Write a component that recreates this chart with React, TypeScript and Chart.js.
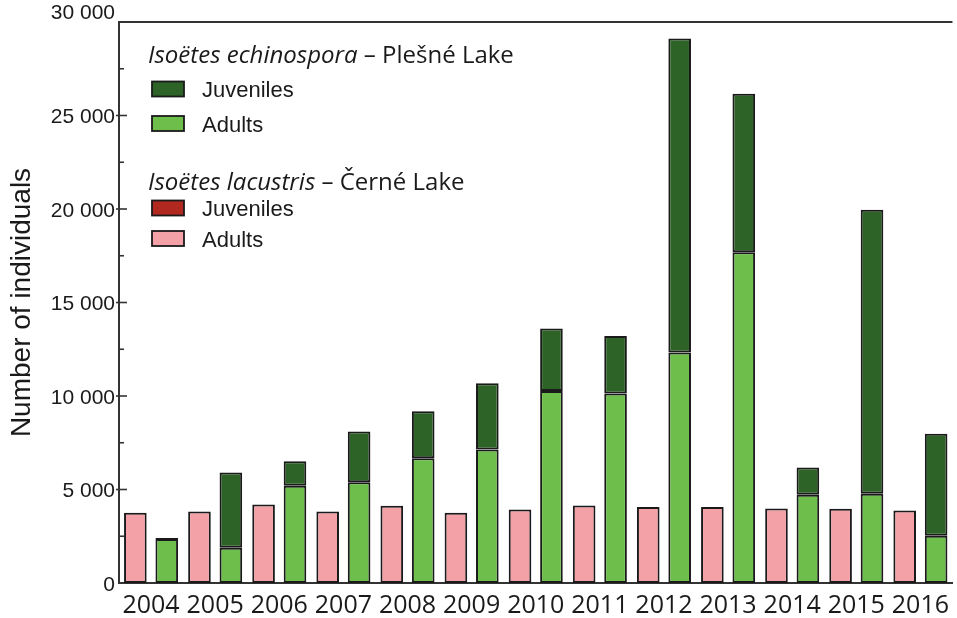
import { useEffect, useRef } from "react";
import { Chart, registerables } from "chart.js";

Chart.register(...registerables);

// Survey years
const years = [
  "2004", "2005", "2006", "2007", "2008", "2009", "2010",
  "2011", "2012", "2013", "2014", "2015", "2016",
];

// Isoëtes lacustris – Černé Lake
const cerneAdults = [3760, 3830, 4200, 3830, 4130, 3760, 3930, 4150, 4060, 4060, 3990, 3970, 3880];
const cerneJuveniles = [0, 0, 0, 0, 0, 0, 0, 0, 0, 0, 0, 0, 0];

// Isoëtes echinospora – Plešné Lake
const plesneAdults = [2350, 1890, 5200, 5390, 6670, 7140, 10270, 10140, 12320, 17690, 4720, 4770, 2530];
const plesneJuveniles = [50, 4020, 1310, 2710, 2510, 3540, 3340, 3070, 16800, 8470, 1460, 15190, 5450];

// Value axis
const yMax = 30000;
const yStep = 5000;

const PINK = "#F4A0A7";
const LIGHT_GREEN = "#6DBE4B";
const DARK_GREEN = "#2E6327";
const DARK_RED = "#B0281E";
const EDGE = "#1a1a1a";
const AXIS = "#333333";
const TEXT = "#1a1a1a";

const TICK_FONT = "'Liberation Sans', Arial, sans-serif";
const HEAD_FONT = "'Open Sans', 'Noto Sans', sans-serif";

const fmt = (v: number) =>
  v === 0 ? "0" : `${Math.floor(v / 1000)} ${String(v % 1000).padStart(3, "0")}`;

// Frame line, inward tick marks, top tick label and the grouped legend
const decorations = {
  id: "decorations",
  afterDraw(chart: any) {
    const { ctx, chartArea, scales } = chart;
    const { left, right, top } = chartArea;
    const y = scales.y;
    ctx.save();

    // top frame line
    ctx.strokeStyle = AXIS;
    ctx.lineWidth = 2;
    ctx.beginPath();
    ctx.moveTo(left - 1, top);
    ctx.lineTo(right, top);
    ctx.stroke();

    // major and minor tick marks on the value axis
    ctx.lineWidth = 1.6;
    for (let v = yStep; v < yMax; v += yStep) {
      const py = y.getPixelForValue(v);
      ctx.beginPath();
      ctx.moveTo(left - 3, py);
      ctx.lineTo(left + 8, py);
      ctx.stroke();
    }
    for (let v = yStep / 2; v < yMax; v += yStep) {
      const py = y.getPixelForValue(v);
      ctx.beginPath();
      ctx.moveTo(left, py);
      ctx.lineTo(left + 5, py);
      ctx.stroke();
    }

    // top tick label sits above the frame line
    ctx.fillStyle = TEXT;
    ctx.font = `21px ${TICK_FONT}`;
    ctx.textAlign = "right";
    ctx.textBaseline = "middle";
    ctx.fillText(fmt(yMax), left - 4, y.getPixelForValue(yMax) - 9);

    // legend
    const hx = left + 29;
    const drawHeader = (italic: string, rest: string, baseline: number) => {
      ctx.textAlign = "left";
      ctx.textBaseline = "alphabetic";
      ctx.fillStyle = TEXT;
      ctx.font = `italic 24px ${HEAD_FONT}`;
      ctx.fillText(italic, hx, baseline);
      const w = ctx.measureText(italic).width;
      ctx.font = `24px ${HEAD_FONT}`;
      ctx.fillText(rest, hx + w, baseline);
    };
    const drawItem = (color: string, label: string, cy: number) => {
      const bx = left + 33;
      ctx.fillStyle = color;
      ctx.fillRect(bx, cy - 7.5, 32, 15);
      ctx.strokeStyle = EDGE;
      ctx.lineWidth = 1.8;
      ctx.strokeRect(bx, cy - 7.5, 32, 15);
      ctx.fillStyle = TEXT;
      ctx.font = `22px ${TICK_FONT}`;
      ctx.textAlign = "left";
      ctx.textBaseline = "alphabetic";
      ctx.fillText(label, left + 83, cy + 8);
    };

    drawHeader("Isoëtes echinospora", " – Plešné Lake", top + 41);
    drawItem(DARK_GREEN, "Juveniles", top + 67);
    drawItem(LIGHT_GREEN, "Adults", top + 101.5);
    drawHeader("Isoëtes lacustris", " – Černé Lake", top + 168);
    drawItem(DARK_RED, "Juveniles", top + 186);
    drawItem(PINK, "Adults", top + 216.5);

    ctx.restore();
  },
};

export default function App() {
  const canvasRef = useRef<HTMLCanvasElement | null>(null);

  useEffect(() => {
    if (!canvasRef.current) return;
    const barStyle = {
      borderColor: EDGE,
      borderWidth: 2,
      borderSkipped: false as const,
      categoryPercentage: 0.98,
      barPercentage: 0.72,
    };
    const chart = new Chart(canvasRef.current, {
      type: "bar",
      data: {
        labels: years,
        datasets: [
          { label: "Černé adults", data: cerneAdults, backgroundColor: PINK, stack: "cerne", ...barStyle },
          { label: "Černé juveniles", data: cerneJuveniles, backgroundColor: DARK_RED, stack: "cerne", ...barStyle },
          { label: "Plešné adults", data: plesneAdults, backgroundColor: LIGHT_GREEN, stack: "plesne", ...barStyle },
          { label: "Plešné juveniles", data: plesneJuveniles, backgroundColor: DARK_GREEN, stack: "plesne", ...barStyle },
        ],
      },
      options: {
        responsive: false,
        animation: false,
        layout: { padding: { top: 22, right: 0, left: 0, bottom: 0 } },
        plugins: {
          legend: { display: false },
          tooltip: { enabled: false },
        },
        scales: {
          x: {
            stacked: true,
            grid: { display: false, drawTicks: false },
            border: { display: true, color: AXIS, width: 2 },
            ticks: {
              color: TEXT,
              font: { family: HEAD_FONT, size: 25 },
              padding: 8,
              maxRotation: 0,
              autoSkip: false,
            },
            afterFit: (s: any) => {
              s.height = 35;
            },
          },
          y: {
            stacked: true,
            min: 0,
            max: yMax,
            grid: { display: false, drawTicks: false },
            border: { display: true, color: AXIS, width: 2 },
            ticks: {
              stepSize: yStep,
              padding: 4,
              labelOffset: 2,
              color: TEXT,
              font: { family: TICK_FONT, size: 21 },
              callback: (v: any) => (Number(v) === yMax ? "" : fmt(Number(v))),
            },
            title: {
              display: true,
              text: "Number of individuals",
              color: TEXT,
              font: { family: TICK_FONT, size: 28 },
              padding: { top: 5, bottom: 0 },
            },
            afterFit: (s: any) => {
              s.width = 119;
            },
          },
        },
      },
      plugins: [decorations],
    });
    return () => chart.destroy();
  }, []);

  return (
    <div style={{ position: "fixed", left: 0, top: 0, width: 957, height: 618, background: "#fff" }}>
      <canvas ref={canvasRef} width={957} height={618} style={{ display: "block" }} />
    </div>
  );
}
